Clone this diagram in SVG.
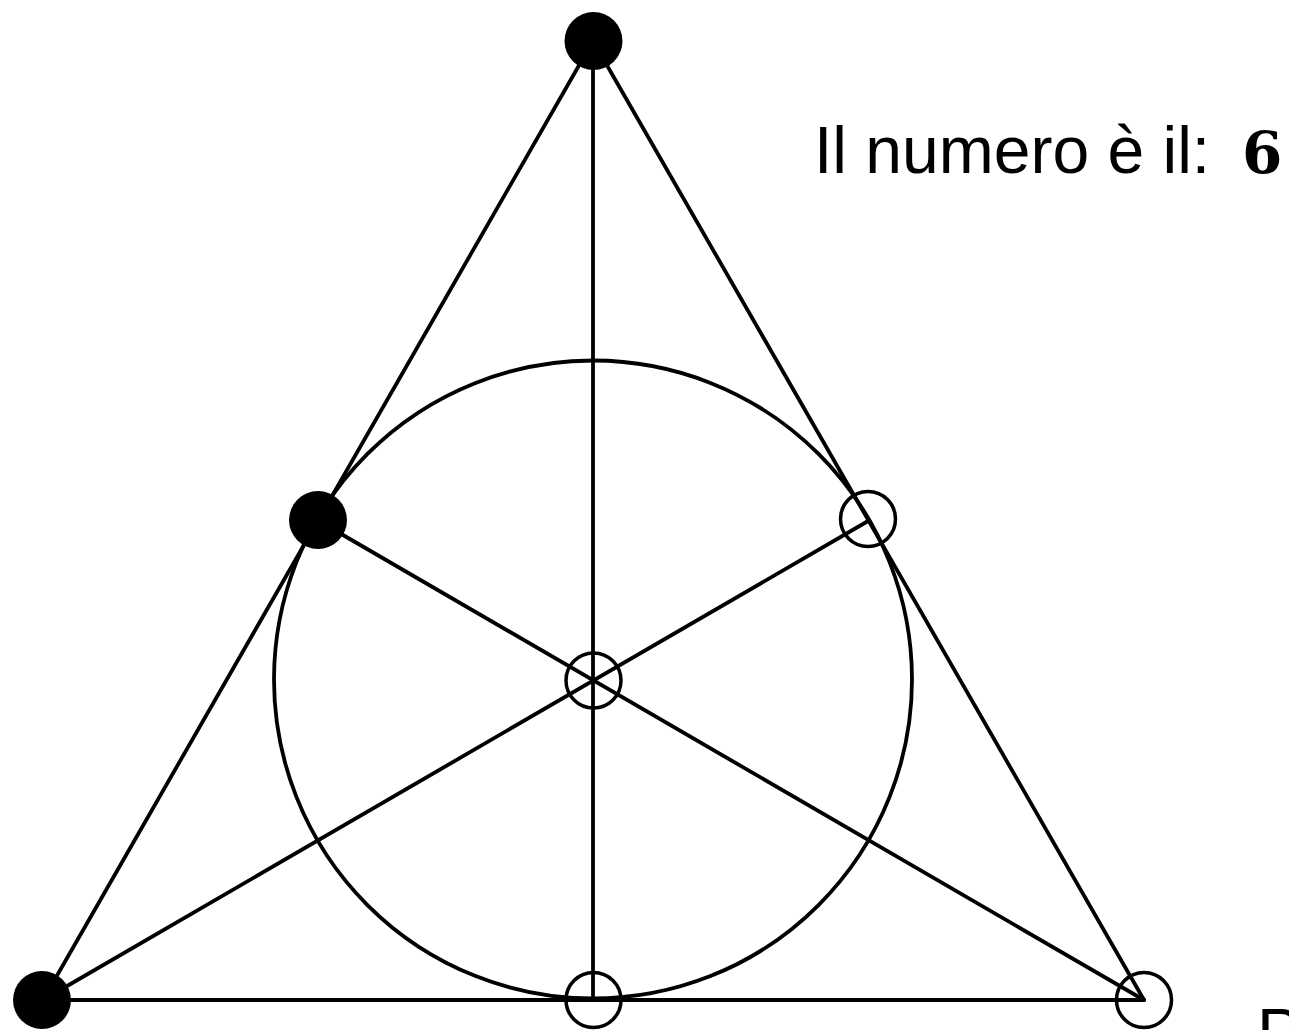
<svg xmlns="http://www.w3.org/2000/svg" width="1289" height="1030" viewBox="0 0 1289 1030">
<style>
.ln{stroke:#000;stroke-width:3.8;fill:none;stroke-linecap:round}
.fill{fill:#000}
.open{fill:none;stroke:#000;stroke-width:3.5}
.lbl{font-family:"Liberation Sans",Arial,sans-serif;font-size:66px;fill:#000}
.num{font-family:"DejaVu Serif","Liberation Serif",serif;font-weight:bold;font-size:58px;fill:#000}
</style>
<rect width="1289" height="1030" fill="#fff"/>
<g id="connectors">
<line class="ln" x1="593" y1="41" x2="43" y2="1000"/>
<line class="ln" x1="593" y1="41" x2="1144" y2="1000"/>
<line class="ln" x1="43" y1="1000" x2="1144" y2="1000"/>
<line class="ln" x1="593" y1="41" x2="593" y2="1000"/>
<line class="ln" x1="43" y1="1000" x2="869" y2="520.5"/>
<line class="ln" x1="1144" y1="1000" x2="318" y2="520.5"/>
<circle class="ln" cx="593" cy="679.5" r="319"/>
</g>
<g id="node-top"><circle class="fill" cx="593.5" cy="41" r="29"/></g>
<g id="node-left-mid"><circle class="fill" cx="318" cy="520" r="29"/></g>
<g id="node-bottom-left"><circle class="fill" cx="42" cy="1000" r="29"/></g>
<g id="node-right-mid"><circle class="open" cx="868" cy="519" r="27.5"/></g>
<g id="node-center"><circle class="open" cx="593.5" cy="680.5" r="27.5"/></g>
<g id="node-bottom-mid"><circle class="open" cx="593.5" cy="1000" r="27.5"/></g>
<g id="node-bottom-right"><circle class="open" cx="1144" cy="1000" r="27.5"/></g>
<g id="label">
<text class="lbl" x="814" y="173">Il numero è il:</text>
<text class="num" x="1242" y="173">6</text>
</g>
<text class="lbl" x="1257" y="1055">P</text>
</svg>
